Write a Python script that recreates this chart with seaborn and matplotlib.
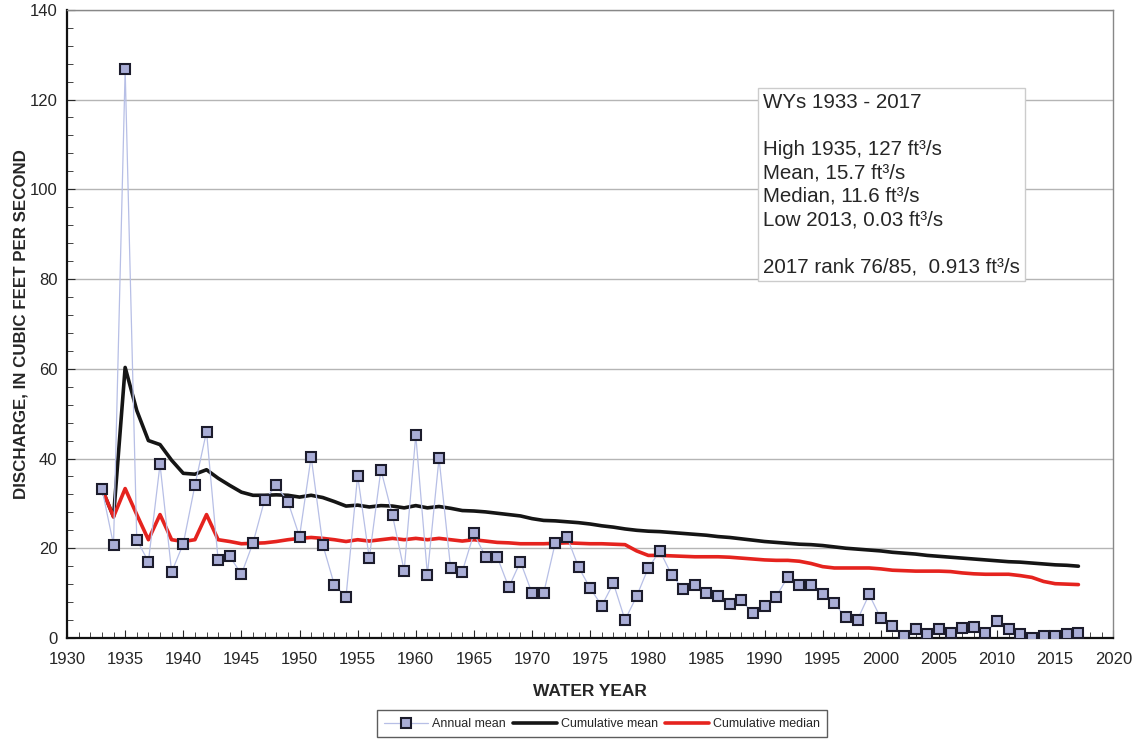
import numpy as np
import pandas as pd
import matplotlib.pyplot as plt
from matplotlib.ticker import MultipleLocator
import seaborn as sns

years = list(range(1933, 2018))

# annual mean discharge, ft3/s
annual_mean = [33.3, 20.8, 126.7, 21.9, 17.0, 38.7, 14.7, 21.0, 34.0, 46.0,
               17.3, 18.2, 14.2, 21.2, 30.8, 34.0, 30.4, 22.6, 40.4, 20.8,
               11.8, 9.2, 36.2, 17.8, 37.5, 27.3, 15.0, 45.2, 14.1, 40.1,
               15.5, 14.8, 23.3, 18.1, 18.1, 11.3, 17.0, 10.0, 10.0, 21.2,
               22.6, 15.8, 11.1, 7.2, 12.2, 4.0, 9.3, 15.6, 19.4, 14.1,
               10.9, 11.7, 10.1, 9.4, 7.6, 8.4, 5.5, 7.1, 9.2, 13.6,
               11.7, 11.7, 9.8, 7.7, 4.6, 4.1, 9.7, 4.4, 2.7, 0.5,
               1.9, 0.9, 2.1, 1.1, 2.2, 2.5, 1.2, 3.7, 2.0, 0.9,
               0.03, 0.4, 0.5, 0.9, 1.2]

cum_mean = [33.3, 27.0, 60.3, 50.7, 44.0, 43.1, 39.6, 36.7, 36.5, 37.5,
            35.6, 34.0, 32.5, 31.8, 31.8, 31.9, 31.8, 31.4, 31.8, 31.3,
            30.4, 29.4, 29.6, 29.2, 29.5, 29.4, 29.0, 29.5, 29.0, 29.3,
            28.9, 28.4, 28.3, 28.1, 27.8, 27.5, 27.2, 26.6, 26.2, 26.1,
            25.9, 25.7, 25.4, 25.0, 24.7, 24.3, 24.0, 23.8, 23.7, 23.5,
            23.3, 23.1, 22.9, 22.6, 22.4, 22.1, 21.8, 21.5, 21.3, 21.1,
            20.9, 20.8, 20.6, 20.3, 20.0, 19.8, 19.6, 19.4, 19.1, 18.9,
            18.7, 18.4, 18.2, 18.0, 17.8, 17.6, 17.4, 17.2, 17.0, 16.9,
            16.7, 16.5, 16.3, 16.2, 16.0]

cum_median = [33.3, 27.0, 33.3, 27.5, 21.9, 27.5, 21.9, 21.5, 21.9, 27.5,
              21.9, 21.5, 21.0, 21.1, 21.2, 21.5, 21.9, 22.2, 22.4, 22.2,
              21.9, 21.5, 21.9, 21.6, 21.9, 22.2, 21.9, 22.2, 21.9, 22.2,
              21.9, 21.6, 21.9, 21.6, 21.3, 21.2, 21.0, 21.0, 21.0, 21.1,
              21.2, 21.1, 21.0, 21.0, 20.9, 20.8, 19.4, 18.4, 18.4, 18.3,
              18.2, 18.1, 18.1, 18.1, 18.0, 17.8, 17.6, 17.4, 17.3, 17.3,
              17.1, 16.6, 15.9, 15.6, 15.6, 15.6, 15.6, 15.4, 15.1, 15.0,
              14.9, 14.9, 14.9, 14.8, 14.5, 14.3, 14.2, 14.2, 14.2, 13.9,
              13.5, 12.6, 12.1, 12.0, 11.9]

stats_text = ("WYs 1933 - 2017\n\n"
              "High 1935, 127 ft³/s\n"
              "Mean, 15.7 ft³/s\n"
              "Median, 11.6 ft³/s\n"
              "Low 2013, 0.03 ft³/s\n\n"
              "2017 rank 76/85,  0.913 ft³/s")

df = pd.DataFrame({'year': years, 'annual': annual_mean,
                   'cmean': cum_mean, 'cmedian': cum_median})

sns.set_style('white')
plt.rcParams['font.family'] = ['Liberation Sans', 'DejaVu Sans']

fig = plt.figure(figsize=(11.36, 7.55), dpi=100)
ax = fig.add_axes([0.059, 0.155, 0.921, 0.832])

sns.lineplot(data=df, x='year', y='annual', ax=ax, color='#b7bfe6', lw=0.9,
             marker='s', markersize=7, markerfacecolor='#a9add6',
             markeredgecolor='#1c1c2c', markeredgewidth=1.5,
             label='Annual mean', zorder=3)
sns.lineplot(data=df, x='year', y='cmean', ax=ax, color='#151515', lw=2.6,
             label='Cumulative mean', zorder=2)
sns.lineplot(data=df, x='year', y='cmedian', ax=ax, color='#e5231e', lw=2.6,
             label='Cumulative median', zorder=2)

ax.set_xlim(1930, 2020)
ax.set_ylim(0, 140)
ax.xaxis.set_major_locator(MultipleLocator(5))
ax.xaxis.set_minor_locator(MultipleLocator(1))
ax.yaxis.set_major_locator(MultipleLocator(20))
ax.yaxis.set_minor_locator(MultipleLocator(4))
ax.tick_params(axis='both', which='major', direction='in', length=6,
               labelsize=12)
ax.tick_params(axis='x', which='major', pad=10)
ax.tick_params(axis='y', which='major', pad=7)
ax.tick_params(axis='both', which='minor', direction='in', length=4)
ax.tick_params(axis='x', which='both', bottom=True)
ax.tick_params(axis='y', which='both', left=True)
ax.grid(axis='y', color='#b5b5b5', lw=1)
ax.set_axisbelow(True)
for side in ['top', 'right']:
    ax.spines[side].set_color('#888888')
    ax.spines[side].set_linewidth(1)
for side in ['left', 'bottom']:
    ax.spines[side].set_color('#111111')
    ax.spines[side].set_linewidth(1.6)

ax.set_xlabel('WATER YEAR', fontsize=12.5, fontweight='bold', labelpad=12)
ax.set_ylabel('DISCHARGE, IN CUBIC FEET PER SECOND', fontsize=12.2,
              fontweight='bold', labelpad=1)

ax.text(0.665, 0.868, stats_text, transform=ax.transAxes, fontsize=14.8,
        va='top', ha='left', linespacing=1.3,
        bbox=dict(boxstyle='square,pad=0.25', fc='white', ec='#cccccc', lw=1))

handles, labels = ax.get_legend_handles_labels()
ax.get_legend().remove()
fig.legend(handles, labels, loc='lower center', ncol=3, bbox_to_anchor=(0.53, 0.015),
           fontsize=9, frameon=True, fancybox=False, edgecolor='#333333',
           handlelength=3.5, columnspacing=0.6, handletextpad=0.3,
           borderpad=0.6)

fig.savefig('out.png', dpi=100)
